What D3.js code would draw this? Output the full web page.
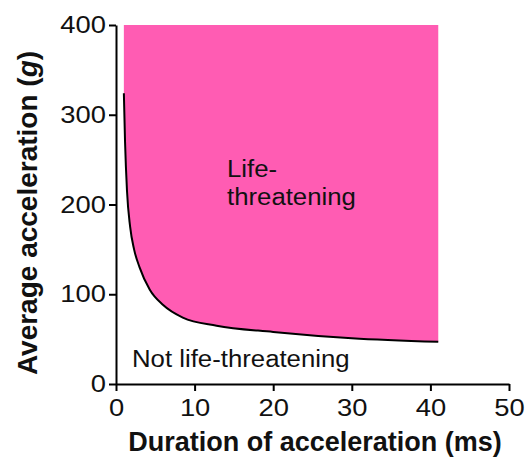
<!DOCTYPE html>
<html>
<head>
<meta charset="utf-8">
<script src="https://cdn.jsdelivr.net/npm/d3@7"></script>
<style>
  body { margin: 0; background: #fff; }
  svg { display: block; font-family: "Liberation Sans", Arial, sans-serif; }
</style>
</head>
<body>
<svg id="chart" width="527" height="457"></svg>
<script>
// Tolerance curve (duration in ms, average acceleration in g)
const durations = [1, 1.15, 1.4, 1.8, 2.3, 3, 4.3, 6, 8.5, 12.8, 20, 30, 41];
const accels = [324, 270, 215, 175, 150, 130, 105, 88, 74, 65, 58, 51, 47];

const xTicks = [0, 10, 20, 30, 40, 50];
const yTicks = [0, 100, 200, 300, 400];

const width = 527;
const height = 457;
const pink = "#ff5cb3";

const svg = d3.select("#chart");

// plot box: x 0..50 -> 116..509, y 0..400 -> 384..25
const x = d3.scaleLinear().domain([0, 50]).range([116, 509]);
const y = d3.scaleLinear().domain([0, 400]).range([384, 25]);

const points = durations.map((d, i) => ({ d: d, g: accels[i] }));

// stretch text sideways a bit, the reference glyphs are wider than Arial
function widen(sel, k) {
  sel.each(function () {
    const w = this.getComputedTextLength();
    d3.select(this).attr("textLength", w * k).attr("lengthAdjust", "spacingAndGlyphs");
  });
}

// life-threatening region: from the curve up to 400 g
const area = d3.area()
  .x(p => x(p.d))
  .y0(y(400))
  .y1(p => y(p.g))
  .curve(d3.curveMonotoneX);

svg.append("path")
  .datum(points)
  .attr("d", area)
  .attr("fill", pink);

const line = d3.line()
  .x(p => x(p.d))
  .y(p => y(p.g))
  .curve(d3.curveMonotoneX);

svg.append("path")
  .datum(points)
  .attr("d", line)
  .attr("fill", "none")
  .attr("stroke", "#000")
  .attr("stroke-width", 2);

// axes
const xAxis = svg.append("g")
  .attr("transform", `translate(0,${y(0)})`)
  .call(d3.axisBottom(x).tickValues(xTicks).tickSize(7).tickSizeOuter(0).tickPadding(8));

const yAxis = svg.append("g")
  .attr("transform", `translate(${x(0)},0)`)
  .call(d3.axisLeft(y).tickValues(yTicks).tickSize(7).tickSizeOuter(0).tickPadding(3));

[xAxis, yAxis].forEach(a => {
  a.selectAll("path, line").attr("stroke", "#000").attr("stroke-width", 2);
  a.selectAll("text")
    .attr("font-family", "Liberation Sans, Arial, sans-serif")
    .attr("font-size", 24)
    .attr("fill", "#111");
  widen(a.selectAll("text"), 1.14);
});

// region labels
const lifeLabel = svg.append("text")
  .attr("x", 227)
  .attr("font-size", 23)
  .attr("fill", "#111");
lifeLabel.append("tspan").attr("x", 227).attr("y", 177).text("Life-");
lifeLabel.append("tspan").attr("x", 227).attr("y", 205).text("threatening");
widen(lifeLabel.selectAll("tspan"), 1.12);

const notLabel = svg.append("text")
  .attr("x", 132)
  .attr("y", 367)
  .attr("font-size", 23)
  .attr("fill", "#111")
  .text("Not life-threatening");
widen(notLabel, 1.12);

// axis titles
svg.append("text")
  .attr("x", 315)
  .attr("y", 451)
  .attr("text-anchor", "middle")
  .attr("font-size", 27)
  .attr("font-weight", "bold")
  .attr("fill", "#111")
  .text("Duration of acceleration (ms)");

const yTitle = svg.append("text")
  .attr("transform", "translate(37,213) rotate(-90)")
  .attr("text-anchor", "middle")
  .attr("font-size", 28)
  .attr("font-weight", "bold")
  .attr("fill", "#111");
yTitle.append("tspan").text("Average acceleration (");
yTitle.append("tspan").attr("font-style", "italic").text("g");
yTitle.append("tspan").text(")");
</script>
</body>
</html>
